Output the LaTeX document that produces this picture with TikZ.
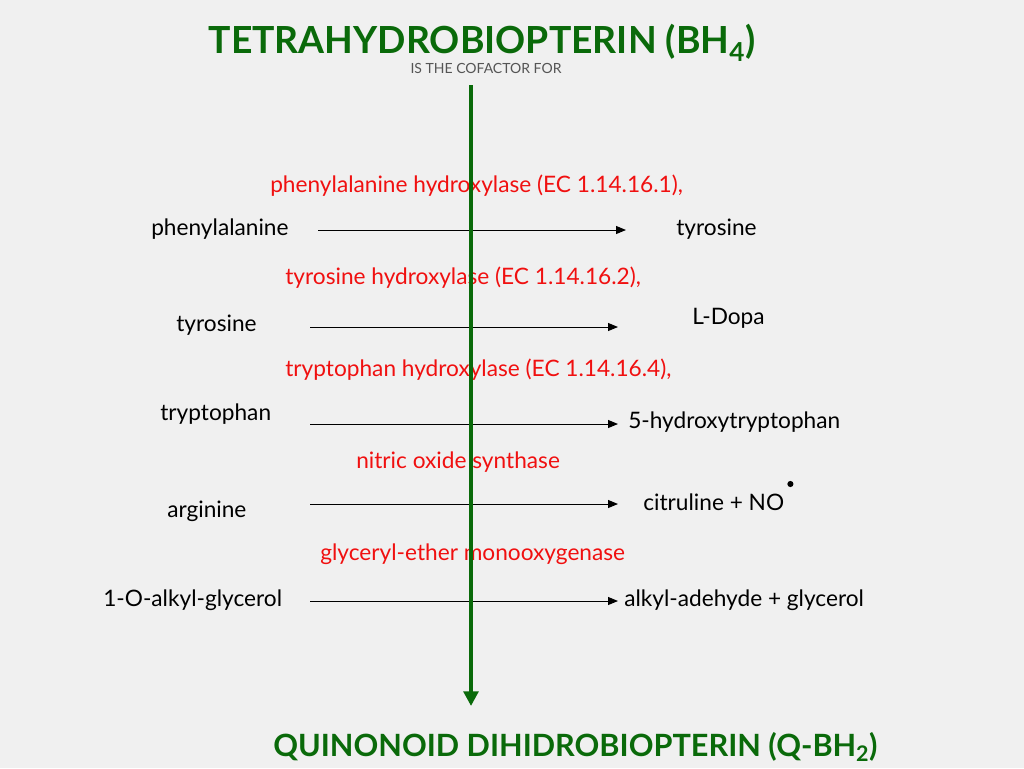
\documentclass[tikz,border=0pt]{standalone}
\usepackage{fontspec}
\setmainfont{Lato}
\usetikzlibrary{arrows.meta}
\definecolor{bg}{HTML}{F0F0F0}
\definecolor{dkgreen}{HTML}{0A6A0A}
\definecolor{enzred}{HTML}{F01010}
\definecolor{subgray}{HTML}{555555}
\begin{document}
\begin{tikzpicture}[x=0.75pt,y=-0.75pt,
  txt/.style={anchor=west,inner sep=0pt,font=\fontsize{17}{20}\selectfont,text=black},
  enz/.style={txt,text=enzred},
  rxn/.style={line width=0.75pt,-{Triangle[length=7.5pt,width=6pt]}},
  ttl/.style={inner sep=0pt,text=dkgreen,font=\fontsize{28}{33}\bfseries\selectfont}]
\fill[bg] (0,0) rectangle (1024,768);
\useasboundingbox (0,0) rectangle (1024,768);
% title
\node[ttl] (title) at (482,43) {TETRAHYDROBIOPTERIN (BH\textsubscript{4})};
\node[inner sep=0pt,text=subgray,font=\fontsize{10.5}{12}\selectfont] (sub) at (486,68) {IS THE COFACTOR FOR};
% enzymes
\node[enz] (e1) at (270,186) {phenylalanine hydroxylase (EC 1.14.16.1),};
\node[enz] (e2) at (285,278) {tyrosine hydroxylase (EC 1.14.16.2),};
\node[enz] (e3) at (285,370) {tryptophan hydroxylase (EC 1.14.16.4),};
\node[enz] (e4) at (356,462) {nitric oxide synthase};
\node[enz] (e5) at (320,554) {glyceryl-ether monooxygenase};
% substrates
\node[txt] (s1) at (151,229) {phenylalanine};
\node[txt] (s2) at (176,325) {tyrosine};
\node[txt] (s3) at (160,414) {tryptophan};
\node[txt] (s4) at (167,511) {arginine};
\node[txt] (s5) at (103,600) {1-O-alkyl-glycerol};
% products
\node[txt] (p1) at (676,229) {tyrosine};
\node[txt] (p2) at (692,318) {L-Dopa};
\node[txt] (p3) at (628,422) {5-hydroxytryptophan};
\node[txt] (p4) at (643,502) {citruline + NO};
\fill ([shift={(6,-18)}]p4.east) circle (2.3pt);
\node[txt] (p5) at (624,600) {alkyl-adehyde + glycerol};
% arrow ends
\coordinate (a1) at (318,230); \coordinate (b1) at (626,230);
\coordinate (a2) at (310,327); \coordinate (b2) at (618,327);
\coordinate (a3) at (310,424); \coordinate (b3) at (618,424);
\coordinate (a4) at (310,504); \coordinate (b4) at (618,504);
\coordinate (a5) at (310,601); \coordinate (b5) at (618,601);
\foreach \i in {1,...,5} {\draw[rxn] (a\i) -- (b\i);}
% bottom
\node[ttl,anchor=west,font=\fontsize{23}{28}\bfseries\selectfont] (bottom) at (273,747) {QUINONOID DIHIDROBIOPTERIN (Q-BH\textsubscript{2})};
% green arrow
\coordinate (gtop) at (471,85);
\coordinate (gbot) at (471,706);
\draw[dkgreen,line width=3pt,-{Triangle[length=11pt,width=11pt]}] (gtop) -- (gbot);
\end{tikzpicture}
\end{document}
